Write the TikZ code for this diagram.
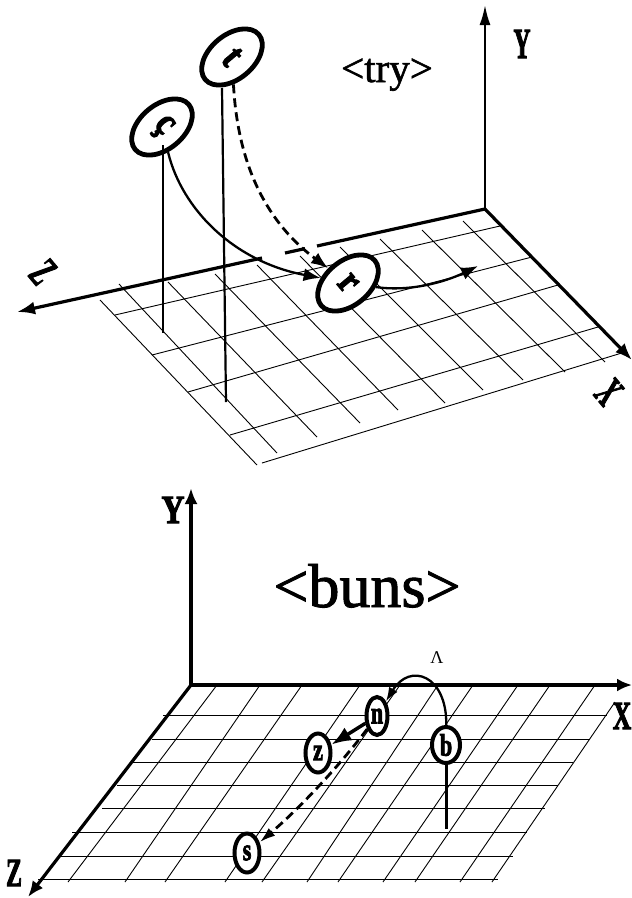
\documentclass[tikz,border=0pt]{standalone}
\usepackage{fontspec}
\usepackage{graphicx}
\setmainfont{Liberation Serif}
\newfontfamily\hvy[BoldFeatures={FakeBold=3}]{Liberation Serif}
\newfontfamily\medw[FakeBold=1.5]{Liberation Serif}
\usetikzlibrary{arrows.meta,shapes.geometric}
\newcommand{\cnd}[2]{\scalebox{#1}[1]{#2}}
\begin{document}
\begin{tikzpicture}[x=1pt,y=-1pt,
  gridline/.style={line width=0.9pt},
  axisline/.style={line width=3.2pt},
  thinaxis/.style={line width=2.2pt},
  arrowtip/.style={-{Latex[length=17pt,width=13pt]}},
  stickline/.style={line width=2.2pt},
  curveline/.style={line width=2.3pt},
  dashline/.style={line width=2.8pt, dash pattern=on 9pt off 5pt},
  topnode/.style={draw, ellipse, fill=white, line width=4.8pt, minimum width=44pt, minimum height=70pt, inner sep=0pt, rotate=-50, font=\fontsize{40}{40}\hvy\bfseries},
  botnode/.style={draw, ellipse, fill=white, line width=4pt, inner sep=0pt, font=\fontsize{31}{31}\hvy\bfseries},
  axlabel/.style={font=\fontsize{43}{43}\hvy\bfseries, inner sep=0pt},
  axlabelb/.style={font=\fontsize{40}{40}\hvy\bfseries, inner sep=0pt},
]
\useasboundingbox (0,0) rectangle (632,898);
% ================= top diagram =================
% grid: lines parallel to Z
\foreach \a/\b/\c/\d in {115/315/500/226, 152/355/532/257, 188/392/558/285, 230/435/598/327, 262/463/625/352}
  \draw[gridline] (\a,\b) -- (\c,\d);
% grid: lines parallel to X
\foreach \a/\b/\c/\d in {100/300/257/465, 119/284/277/453, 168/282/317/437, 215/274/360/423, 257/265/398/410, 300/256/445/403, 340/247/483/390, 380/239/523/380, 422/230/565/372, 463/221/605/362}
  \draw[gridline] (\a,\b) -- (\c,\d);
% axes
\coordinate (O1) at (485,209);
\coordinate (Y1tip) at (485,5);
\coordinate (X1tip) at (632,360);
\coordinate (Z1tip) at (17,312);
\coordinate (zA) at (317,246);
\coordinate (zB) at (305,248.6);
\coordinate (zC) at (285,253);
\coordinate (zD) at (262,258);
\draw[thinaxis, -{Latex[length=20pt,width=11pt]}] (O1) -- (Y1tip);
\draw[axisline, arrowtip] (O1) -- (X1tip);
\draw[axisline] (O1) -- (zA);
\draw[axisline] (zB) -- (zC);
\draw[axisline, -{Latex[length=18pt,width=13pt]}] (zD) -- (Z1tip);
% labels
\node[axlabel] (Y1lab) at (522,44) {\cnd{0.55}{Y}};
\node[axlabel, rotate=-50] (Z1lab) at (43,272) {\cnd{0.55}{Z}};
\node[axlabel, rotate=-50] (X1lab) at (609,392) {\cnd{0.55}{X}};
\node[font=\fontsize{41}{41}\medw, anchor=base, inner sep=0pt] (try) at (387,82) {<try>};
% nodes
\node[topnode] (c) at (162,127) {\cnd{0.8}{ç}};
\node[topnode] (t) at (232,57) {\cnd{0.8}{t}};
\node[topnode] (r) at (348,283) {\cnd{0.8}{r}};
% sticks
\coordinate (ctop) at (163,145);
\coordinate (cbot) at (163,333);
\coordinate (ttop) at (222,88);
\coordinate (tbot) at (226,402);
\draw[stickline] (ctop) -- (cbot);
\draw[stickline] (ttop) -- (tbot);
% connectors
\draw[curveline, arrowtip] (c) .. controls (182,210) and (235,262) .. (r);
\draw[dashline, arrowtip] (t) .. controls (238,170) and (270,225) .. (r);
\coordinate (rout) at (478,266);
\draw[curveline, arrowtip] (r) .. controls (410,292) and (445,282) .. (rout);
% ================= bottom diagram =================
\foreach \a/\b/\c in {163/715/607, 152/739/590, 133/762/573, 117/785/558, 102/808/545, 72/832/527, 60/856/513, 38/879/498}
  \draw[gridline] (\a,\b) -- (\c,\b);
\foreach \a/\b/\c/\d in {217/685/68/882, 260/685/125/882, 302/685/165/882, 360/685/225/882, 400/685/262/882, 438/685/307/882, 473/685/338/882, 518/685/383/882, 550/685/415/882, 595/685/460/882, 615/702/492/882}
  \draw[gridline] (\a,\b) -- (\c,\d);
\coordinate (O2) at (191,685);
\coordinate (Y2tip) at (191,488);
\coordinate (X2tip) at (632,685);
\coordinate (Z2tip) at (28,897);
\draw[axisline, -{Latex[length=16pt,width=13pt]}] (O2) -- (Y2tip);
\draw[axisline, -{Latex[length=15pt,width=13pt]}] (O2) -- (X2tip);
\draw[axisline, -{Latex[length=16pt,width=13pt]}] (O2) -- (Z2tip);
\node[axlabelb] (Y2lab) at (173,510) {\cnd{0.8}{Y}};
\node[axlabelb] (X2lab) at (622,716) {\cnd{0.64}{X}};
\node[axlabelb] (Z2lab) at (14,873) {\cnd{0.6}{Z}};
\node[font=\fontsize{62}{62}\medw, anchor=base, inner sep=0pt] (buns) at (367,607) {<buns>};
\node[font=\fontsize{18}{18}\selectfont, inner sep=0pt] (lam) at (437,658) {Λ};
% nodes
\node[botnode, minimum width=21pt, minimum height=38pt] (n) at (377,716) {\cnd{0.72}{n}};
\node[botnode, minimum width=25pt, minimum height=39pt] (z) at (318,753) {\cnd{0.72}{z}};
\node[botnode, minimum width=28pt, minimum height=36pt] (b) at (446,745) {\cnd{0.72}{b}};
\node[botnode, minimum width=25pt, minimum height=39pt] (s) at (247,853) {\cnd{0.72}{s}};
\coordinate (bbot) at (446,829);
\draw[line width=3pt] (b) -- (bbot);
\draw[curveline, -{Latex[length=14pt,width=10pt]}] (b) .. controls (447,675) and (410,662) .. (n);
\draw[line width=3.5pt, -{Latex[length=20pt,width=15pt]}] (n) -- (z);
\draw[dashline, -{Latex[length=16pt,width=10pt]}] (n) .. controls (340,765) and (300,808) .. (s);
\end{tikzpicture}
\end{document}
